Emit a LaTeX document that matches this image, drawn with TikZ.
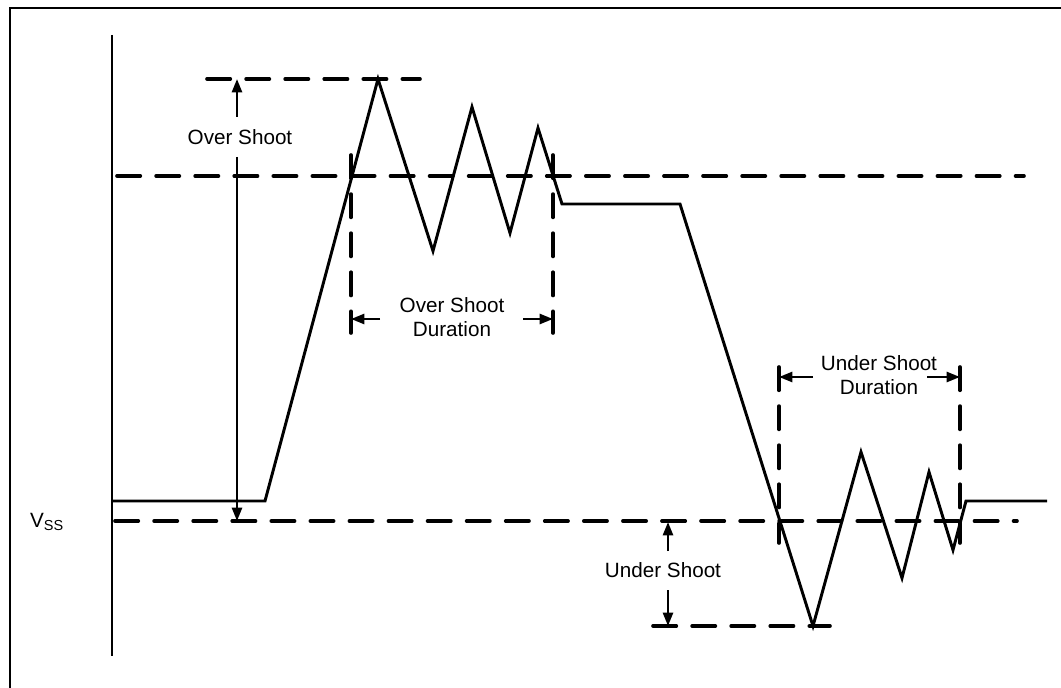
\documentclass[tikz,border=0pt]{standalone}
\usepackage{fontspec}
\setmainfont{Liberation Sans}
\usetikzlibrary{arrows.meta}
\tikzset{
  level/.style={line width=2.7pt, line cap=round, dash pattern=on 17.5pt off 11.8pt},
  wave/.style={line width=2.2pt, line join=miter},
  dimarrow/.style={line width=1.9pt, -{Triangle[length=10pt,width=7.5pt]}},
  lbl/.style={font=\fontsize{15.5}{18.5}\selectfont, align=center, inner sep=0pt}
}
\begin{document}
\begin{tikzpicture}[x=0.75pt, y=-0.75pt]
  \useasboundingbox (0,0) rectangle (1061,688);
  % marco y eje
  \draw[line width=1.8pt] (10,695) -- (10,8) -- (1070,8);
  \draw[line width=2.2pt] (112,35) -- (112,656);
  % niveles
  \draw[level] (207,79) -- (420,79);
  \draw[level] (117,176) -- (1024,176);
  \draw[level] (115,521) -- (1017,521);
  \draw[level] (653,626) -- (830,626);
  % ventanas de duracion
  \draw[level] (351,155) -- (351,333);
  \draw[level] (553,155) -- (553,333);
  \draw[level] (779,367) -- (779,543);
  \draw[level] (960,367) -- (960,543);
  % la onda
  \draw[wave] (112,501) -- (265,501) -- (378,79) -- (433,251) -- (472,107)
    -- (510,233) -- (538,128) -- (562,204) -- (680,204) -- (813,626)
    -- (861,452) -- (902,578) -- (929,472) -- (953,550) -- (966,501) -- (1047,501);
  % textos
  \node[lbl] (vss) at (47,522) {V\textsubscript{SS}};
  \node[lbl] (osl) at (240,137) {Over Shoot};
  \node[lbl] (osd) at (452,317) {Over Shoot\\Duration};
  \node[lbl] (usd) at (879,375) {Under Shoot\\Duration};
  \node[lbl] (usl) at (663,570) {Under Shoot};
  % cotas
  \coordinate (osTop) at (237,79);   \coordinate (osBot) at (237,521);
  \coordinate (osUp) at (237,117);   \coordinate (osDn) at (237,157);
  \draw[dimarrow] (osUp) -- (osTop);
  \draw[dimarrow] (osDn) -- (osBot);
  \coordinate (odL) at (351,319);    \coordinate (odR) at (553,319);
  \coordinate (odLs) at (380,319);   \coordinate (odRs) at (523,319);
  \draw[dimarrow] (odLs) -- (odL);
  \draw[dimarrow] (odRs) -- (odR);
  \coordinate (udL) at (779,377);    \coordinate (udR) at (960,377);
  \coordinate (udLs) at (813,377);   \coordinate (udRs) at (927,377);
  \draw[dimarrow] (udLs) -- (udL);
  \draw[dimarrow] (udRs) -- (udR);
  \coordinate (usTop) at (668,522);  \coordinate (usBot) at (668,626);
  \coordinate (usUp) at (668,551);   \coordinate (usDn) at (668,590);
  \draw[dimarrow] (usUp) -- (usTop);
  \draw[dimarrow] (usDn) -- (usBot);
\end{tikzpicture}
\end{document}
